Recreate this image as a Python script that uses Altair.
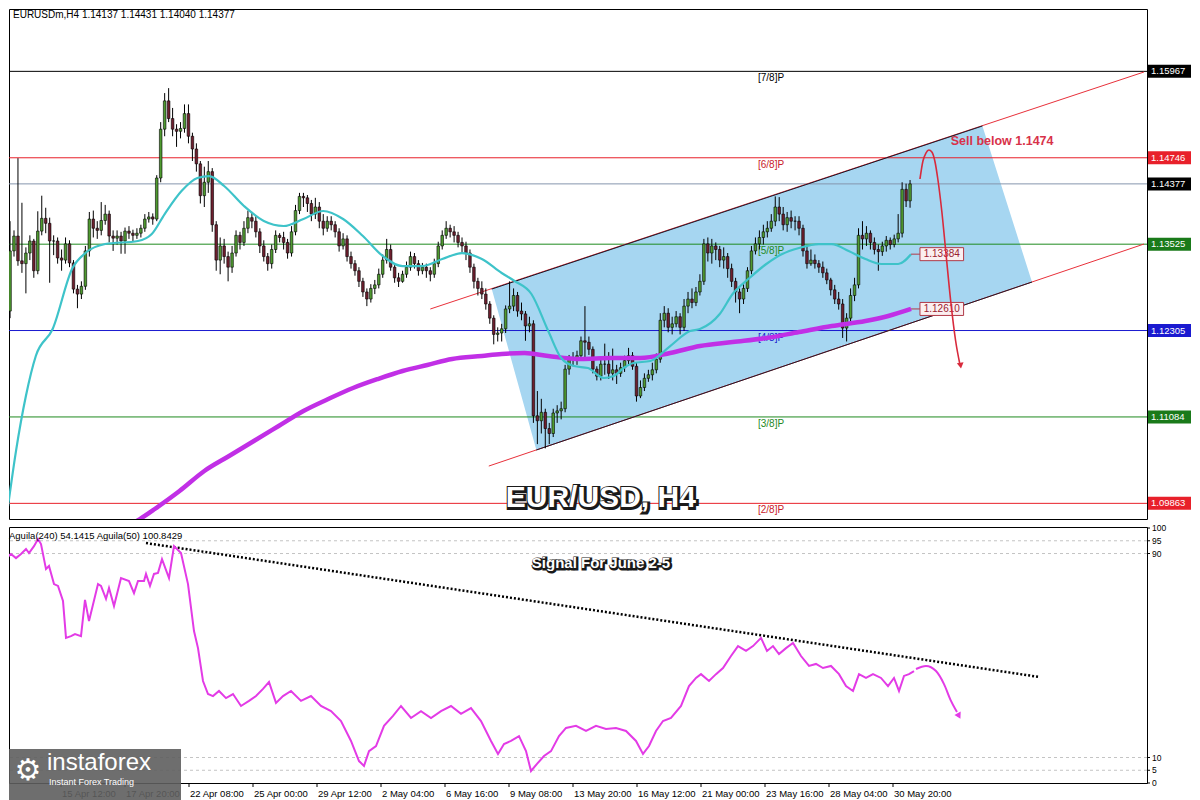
import altair as alt
import pandas as pd

# ---------------- values ----------------
FIRST_BAR = 2          # index of first visible H4 bar
FIRST_OPEN = 1.1258

closes = [
    1.1343, 1.1364, 1.1329, 1.1325, 1.1340, 1.1357, 1.1315, 1.1371, 1.1389, 1.1382,
    1.1357, 1.1357, 1.1333, 1.1330, 1.1353, 1.1326, 1.1289, 1.1282, 1.1293, 1.1343,
    1.1388, 1.1375, 1.1372, 1.1386, 1.1395, 1.1364, 1.1361, 1.1364, 1.1357, 1.1371,
    1.1368, 1.1365, 1.1368, 1.1375, 1.1388, 1.1391, 1.1388, 1.1446, 1.1515, 1.1555,
    1.1530, 1.1515, 1.1512, 1.1516, 1.1537, 1.1505, 1.1487, 1.1466, 1.1421, 1.1440,
    1.1455, 1.1380, 1.1330, 1.1350, 1.1335, 1.1320, 1.1340, 1.1365, 1.1355, 1.1375,
    1.1390, 1.1385, 1.1370, 1.1350, 1.1335, 1.1325, 1.1345, 1.1365, 1.1362, 1.1355,
    1.1340, 1.1370, 1.1400, 1.1420, 1.1418, 1.1410, 1.1395, 1.1405, 1.1385, 1.1375,
    1.1385, 1.1380, 1.1370, 1.1350, 1.1360, 1.1335, 1.1325, 1.1315, 1.1300, 1.1285,
    1.1275, 1.1290, 1.1295, 1.1310, 1.1330, 1.1345, 1.1320, 1.1305, 1.1300, 1.1310,
    1.1320, 1.1335, 1.1325, 1.1315, 1.1320, 1.1315, 1.1310, 1.1325, 1.1350, 1.1365,
    1.1375, 1.1370, 1.1365, 1.1355, 1.1350, 1.1340, 1.1320, 1.1300, 1.1290, 1.1282,
    1.1268, 1.1248, 1.1225, 1.1227, 1.1233, 1.1261, 1.1265, 1.1280, 1.1258, 1.1254,
    1.1237, 1.1240, 1.1110, 1.1103, 1.1115, 1.1092, 1.1085, 1.1114, 1.1117, 1.1120,
    1.1176, 1.1190, 1.1192, 1.1195, 1.1216, 1.1214, 1.1204, 1.1176, 1.1166, 1.1183,
    1.1183, 1.1170, 1.1175, 1.1170, 1.1178, 1.1188, 1.1195, 1.1180, 1.1138, 1.1150,
    1.1163, 1.1168, 1.1175, 1.1190, 1.1245, 1.1255, 1.1235, 1.1240, 1.1250, 1.1235,
    1.1265, 1.1275, 1.1270, 1.1285, 1.1300, 1.1353, 1.1340, 1.1350, 1.1345, 1.1330,
    1.1335, 1.1318, 1.1300, 1.1285, 1.1275, 1.1290, 1.1315, 1.1343, 1.1353, 1.1362,
    1.1370, 1.1375, 1.1385, 1.1405, 1.1395, 1.1380, 1.1390, 1.1385, 1.1385, 1.1375,
    1.1343, 1.1325, 1.1330, 1.1325, 1.1320, 1.1312, 1.1302, 1.1288, 1.1275, 1.1268,
    1.1234, 1.1248, 1.1280, 1.1295, 1.1365, 1.1360, 1.1368, 1.1355, 1.1345, 1.1342,
    1.1350, 1.1358, 1.1352, 1.1360, 1.1368, 1.1430, 1.14137, 1.14377,
]
highs = [
    1.1385, 1.1372, 1.1474, 1.1411, 1.1348, 1.1365, 1.1360, 1.1399, 1.1421, 1.1404,
    1.1390, 1.1365, 1.1362, 1.1345, 1.1362, 1.1358, 1.1330, 1.1295, 1.1300, 1.1350,
    1.1398, 1.1400, 1.1385, 1.1412, 1.1408, 1.1400, 1.1372, 1.1372, 1.1370, 1.1376,
    1.1378, 1.1373, 1.1375, 1.1380, 1.1395, 1.1398, 1.1396, 1.1450, 1.1525, 1.1566,
    1.1573, 1.1545, 1.1522, 1.1525, 1.1550, 1.1550, 1.1510, 1.1495, 1.1470, 1.1462,
    1.1470, 1.1460, 1.1385, 1.1362, 1.1360, 1.1342, 1.1350, 1.1372, 1.1370, 1.1385,
    1.1400, 1.1398, 1.1392, 1.1375, 1.1358, 1.1340, 1.1352, 1.1372, 1.1368, 1.1370,
    1.1360, 1.1378, 1.1408, 1.1425, 1.1425, 1.1422, 1.1415, 1.1418, 1.1412, 1.1395,
    1.1392, 1.1392, 1.1385, 1.1375, 1.1368, 1.1365, 1.1342, 1.1330, 1.1320, 1.1305,
    1.1290, 1.1296, 1.1302, 1.1318, 1.1338, 1.1360, 1.1352, 1.1325, 1.1312, 1.1315,
    1.1328, 1.1342, 1.1340, 1.1330, 1.1326, 1.1325, 1.1320, 1.1332, 1.1356, 1.1372,
    1.1385, 1.1380, 1.1378, 1.1370, 1.1362, 1.1356, 1.1345, 1.1325, 1.1305, 1.1300,
    1.1290, 1.1272, 1.1252, 1.1235, 1.1240, 1.1266, 1.1300, 1.1290, 1.1285, 1.1270,
    1.1258, 1.1250, 1.1245, 1.1145, 1.1134, 1.1120, 1.1100, 1.1120, 1.1125, 1.1130,
    1.1182, 1.1196, 1.1200, 1.1202, 1.1222, 1.1265, 1.1222, 1.1208, 1.1180, 1.1190,
    1.1212, 1.1200, 1.1205, 1.1182, 1.1185, 1.1195, 1.1206, 1.1200, 1.1185, 1.1160,
    1.1170, 1.1175, 1.1185, 1.1198, 1.1255, 1.1265, 1.1262, 1.1250, 1.1258, 1.1255,
    1.1275, 1.1285, 1.1290, 1.1292, 1.1310, 1.1360, 1.1362, 1.1360, 1.1355, 1.1350,
    1.1348, 1.1340, 1.1325, 1.1305, 1.1290, 1.1296, 1.1320, 1.1350, 1.1362, 1.1372,
    1.1380, 1.1385, 1.1395, 1.1420, 1.1419, 1.1405, 1.1398, 1.1400, 1.1392, 1.1392,
    1.1380, 1.1350, 1.1345, 1.1338, 1.1330, 1.1328, 1.1318, 1.1305, 1.1295, 1.1285,
    1.1275, 1.1255, 1.1290, 1.1305, 1.1375, 1.1385, 1.1378, 1.1372, 1.1362, 1.1352,
    1.1356, 1.1364, 1.1362, 1.1366, 1.1395, 1.1440, 1.1438, 1.14431,
]
lows = [
    1.1248, 1.1335, 1.1322, 1.1312, 1.1283, 1.1330, 1.1305, 1.1310, 1.1365, 1.1368,
    1.1298, 1.1337, 1.1325, 1.1315, 1.1325, 1.1320, 1.1283, 1.1262, 1.1275, 1.1288,
    1.1335, 1.1362, 1.1360, 1.1365, 1.1380, 1.1355, 1.1343, 1.1352, 1.1339, 1.1339,
    1.1360, 1.1356, 1.1360, 1.1362, 1.1370, 1.1383, 1.1380, 1.1385, 1.1440, 1.1505,
    1.1525, 1.1505, 1.1490, 1.1502, 1.1510, 1.1495, 1.1470, 1.1455, 1.1410, 1.1405,
    1.1425, 1.1370, 1.1315, 1.1310, 1.1325, 1.1300, 1.1312, 1.1335, 1.1345, 1.1350,
    1.1368, 1.1375, 1.1362, 1.1340, 1.1328, 1.1315, 1.1318, 1.1340, 1.1355, 1.1345,
    1.1332, 1.1335, 1.1365, 1.1395, 1.1405, 1.1398, 1.1385, 1.1388, 1.1375, 1.1365,
    1.1370, 1.1372, 1.1362, 1.1342, 1.1345, 1.1328, 1.1318, 1.1308, 1.1292, 1.1278,
    1.1265, 1.1270, 1.1282, 1.1290, 1.1305, 1.1325, 1.1315, 1.1298, 1.1292, 1.1298,
    1.1305, 1.1315, 1.1318, 1.1308, 1.1310, 1.1305, 1.1300, 1.1305, 1.1320, 1.1345,
    1.1360, 1.1362, 1.1355, 1.1348, 1.1340, 1.1330, 1.1312, 1.1290, 1.1280, 1.1275,
    1.1260, 1.1240, 1.1211, 1.1215, 1.1215, 1.1227, 1.1255, 1.1258, 1.1250, 1.1245,
    1.1216, 1.1228, 1.1100, 1.1070, 1.1085, 1.1064, 1.1070, 1.1080, 1.1100, 1.1105,
    1.1115, 1.1168, 1.1180, 1.1182, 1.1190, 1.1190, 1.1196, 1.1170, 1.1160, 1.1160,
    1.1168, 1.1162, 1.1160, 1.1155, 1.1165, 1.1172, 1.1182, 1.1175, 1.1130, 1.1135,
    1.1145, 1.1158, 1.1160, 1.1170, 1.1185, 1.1235, 1.1228, 1.1225, 1.1235, 1.1225,
    1.1230, 1.1255, 1.1262, 1.1265, 1.1280, 1.1295, 1.1328, 1.1325, 1.1330, 1.1320,
    1.1318, 1.1305, 1.1292, 1.1270, 1.1255, 1.1268, 1.1285, 1.1310, 1.1338, 1.1345,
    1.1352, 1.1362, 1.1370, 1.1378, 1.1385, 1.1372, 1.1370, 1.1375, 1.1372, 1.1365,
    1.1335, 1.1318, 1.1322, 1.1318, 1.1312, 1.1305, 1.1296, 1.1280, 1.1268, 1.1260,
    1.1220, 1.1215, 1.1240, 1.1272, 1.1290, 1.1345, 1.1350, 1.1345, 1.1338, 1.1315,
    1.1336, 1.1342, 1.1345, 1.1348, 1.1355, 1.1362, 1.1405, 1.14040,
]

# fast moving average (cyan), read at points
fast_i = [1.5, 3.5, 6, 8.5, 12.75, 17.75, 21, 26, 34.25, 37.75, 41, 45.25, 49.25, 52.25, 56,
          61, 66, 71, 76, 81, 86, 91, 96, 101, 106, 111, 116, 121, 126, 129.25, 133.5, 137.75,
          141, 144.25, 147.75, 151.75, 154.25, 156.75, 159.25, 163.5, 168.5, 173.5, 176, 181,
          184.25, 188.5, 192.75, 196.75, 201, 206, 209.25, 213.5, 217.75, 221.75, 226, 229.25]
fast_p = [1.09825, 1.10602, 1.11380, 1.11945, 1.12326, 1.13188, 1.13400, 1.13527, 1.13570,
          1.13669, 1.13951, 1.14276, 1.14460, 1.14488, 1.14347, 1.14064, 1.13852, 1.13782,
          1.13881, 1.13994, 1.13881, 1.13640, 1.13358, 1.13216, 1.13216, 1.13315, 1.13400,
          1.13315, 1.13118, 1.13005, 1.12821, 1.12298, 1.11917, 1.11803, 1.11775, 1.11634,
          1.11662, 1.11775, 1.11846, 1.11874, 1.12086, 1.12298, 1.12326, 1.12538, 1.12821,
          1.13047, 1.13245, 1.13386, 1.13471, 1.13527, 1.13527, 1.13428, 1.13315, 1.13245,
          1.13245, 1.13384]
# slow moving average (magenta)
slow_i = [32, 34.75, 38.5, 44.75, 51, 57.25, 63.5, 69.75, 76, 82.25, 88.5, 94.75, 101, 107.25,
          113.5, 121, 126, 131.75, 137.75, 146, 153.5, 161, 168.5, 176, 184.25, 192.75, 201,
          209.25, 217.75, 223.5, 229.25]
slow_p = [1.0955, 1.09641, 1.09783, 1.10037, 1.10320, 1.10532, 1.10744, 1.10956, 1.11168,
          1.11337, 1.11493, 1.11620, 1.11733, 1.11818, 1.11902, 1.11945, 1.11973, 1.11987,
          1.11945, 1.11902, 1.11916, 1.11916, 1.11987, 1.12086, 1.12142, 1.12199, 1.12284,
          1.12369, 1.12439, 1.12510, 1.12610]

# Aguila(240) oscillator (lower panel)
ind_i = [1.5, 2.25, 3.5, 4.75, 6, 7.25, 8, 9.25, 10.25, 11,
         12.25, 13, 14.25, 15.25, 16.5, 17.25, 18.5, 19.5, 21, 22,
         23, 25.25, 26, 27.25, 28, 29.25, 31, 33, 34.25, 35.25,
         36.75, 37.25, 38.25, 39.25, 40.25, 41.25, 43, 44.25, 46, 47.75,
         49.25, 50.25, 51.5, 52.75, 54, 55.5, 57.25, 59, 61, 63,
         64.75, 66.5, 68, 69.75, 71.5, 73.5, 76, 78.5, 81, 83.5,
         86, 88.5, 90.5, 91.75, 93, 94.75, 96.75, 99, 101, 103.5,
         106, 108.5, 111, 113.5, 116, 118.5, 121, 123.5, 125.25, 126.75,
         128.5, 130.5, 132.25, 133.5, 135, 136.75, 138.5, 140.5, 142.25, 144.75,
         147.25, 149.75, 152.25, 154.75, 157.25, 159.75, 161.5, 163, 164.75, 166.5,
         168.5, 171, 173, 174.75, 176, 178, 179.75, 181.5, 183.5, 185.25,
         187.25, 189, 191, 192.5, 194, 195.5, 197.25, 199, 201, 203,
         204.75, 206.5, 208.5, 210.5, 212.25, 214, 215.5, 217.25, 219, 221,
         222.75, 224.25, 225.5, 226.75, 228, 229.25]
ind_v = [82.0, 88.2, 89.8, 88.2, 89.8, 91.8, 90.2, 92.9, 95.7, 93.7,
         83.9, 85.1, 78.0, 77.3, 71.4, 56.9, 57.6, 58.4, 57.6, 71.8,
         63.5, 78.0, 77.3, 72.2, 76.5, 69.4, 80.4, 79.2, 74.5, 79.2,
         79.2, 82.0, 77.3, 82.0, 82.4, 87.8, 80.4, 92.9, 90.2, 78.0,
         59.6, 52.9, 40.0, 34.9, 34.1, 36.1, 33.3, 34.9, 30.2, 32.2,
         34.1, 36.9, 39.6, 31.4, 34.1, 36.1, 32.2, 34.1, 30.2, 28.2,
         24.3, 16.5, 8.6, 6.7, 12.5, 14.5, 22.4, 26.3, 30.2, 25.5,
         28.2, 25.5, 28.2, 30.2, 27.1, 29.4, 24.3, 16.5, 11.4, 15.3,
         16.5, 18.4, 12.5, 4.7, 7.5, 10.6, 12.5, 18.4, 21.6, 22.4,
         20.4, 22.4, 21.2, 21.6, 20.4, 16.5, 11.4, 14.5, 20.4, 24.3,
         25.5, 30.2, 38.0, 41.2, 42.7, 40.0, 42.7, 45.1, 49.8, 53.7,
         51.8, 53.7, 56.9, 51.8, 53.7, 50.6, 52.9, 54.9, 49.8, 45.9,
         46.7, 45.1, 45.9, 42.7, 38.0, 36.1, 42.7, 41.2, 42.7, 41.2,
         38.0, 41.2, 36.1, 42.0, 42.7, 43.9]

# Murrey levels
level_names = ["[7/8]P", "[6/8]P", "[5/8]P", "[4/8]P", "[3/8]P", "[2/8]P"]
level_values = [1.15967, 1.14746, 1.13525, 1.12305, 1.11084, 1.09863]
level_colors = ["#000000", "#e8202a", "#1f8a1f", "#1a1ad0", "#1f8a1f", "#e8202a"]
level_text_colors = ["#000000", "#c8202a", "#1f8a1f", "#1a1ad0", "#1f8a1f", "#c8202a"]
current_price = 1.14377

tag_values = [1.15967, 1.14746, 1.14377, 1.13525, 1.12305, 1.11084, 1.09863]
tag_colors = ["#000000", "#e8202a", "#000000", "#1a7a1a", "#1a1ad0", "#1a7a1a", "#e8202a"]

price_ticks = [1.09670, 1.10140, 1.10600, 1.11530, 1.12000, 1.12470, 1.12930, 1.13400,
               1.13860, 1.15260, 1.15720, 1.16190, 1.16650]
ind_ticks = [0, 5, 10, 90, 95, 100]
ind_dashed = [95, 90, 10, 5]

date_idx = [16, 32, 48, 64, 80, 96, 112, 128, 144, 160, 176, 192, 208, 224]
date_labels = ["15 Apr 12:00", "17 Apr 20:00", "22 Apr 08:00", "25 Apr 00:00", "29 Apr 12:00",
               "2 May 04:00", "6 May 16:00", "9 May 08:00", "13 May 20:00", "16 May 12:00",
               "21 May 00:00", "23 May 16:00", "28 May 04:00", "30 May 20:00"]

# channel (parallelogram) and trend lines, in (bar, price)
chan_i = [123.5, 134.75, 247.25, 259.75]
chan_top = [1.12891, 1.13100, 1.15195, 1.12990]
chan_bot = [1.12891, 1.10617, 1.12752, 1.12990]
red_i1 = [108, 122.75]
red_p1 = [1.12609, 1.10390]
red_i2 = [288, 288]
red_p2 = [1.15958, 1.13527]

arrow_i = [231.5, 232.25, 233, 233.75, 234.5, 235.25, 236, 237, 238, 239.25, 240.5, 241.5]
arrow_p = [1.14446, 1.14700, 1.14813, 1.14855, 1.14827, 1.14700, 1.14446, 1.13994,
           1.13428, 1.12722, 1.12157, 1.11846]
low_arrow_i = [229.75, 232.25, 234.75, 236.75, 238.5, 240.0]
low_arrow_v = [44.7, 45.9, 43.9, 38.8, 32.2, 27.8]
trend_i = [37.25, 260.5]
trend_v = [94.1, 41.6]

# ---------------- layout ----------------
W = 1138
H_MAIN = 510
H_LOW = 256
X_DOMAIN = [3, 287.5]
P_DOMAIN = [1.09642, 1.16848]
V_DOMAIN = [0, 100.4]
PX = (P_DOMAIN[1] - P_DOMAIN[0]) / H_MAIN
FONT = "Liberation Sans"
BULL = "#4f9a30"
BEAR = "#6e1f2e"
RED = "#d82a3c"

xs = alt.Scale(domain=X_DOMAIN, nice=False, zero=False)
ps = alt.Scale(domain=P_DOMAIN, nice=False, zero=False)
vs = alt.Scale(domain=V_DOMAIN, nice=False, zero=False)


def X(f="i"):
    return alt.X(f"{f}:Q", scale=xs, axis=None)


def P(f):
    return alt.Y(f"{f}:Q", scale=ps, axis=None)


def V(f):
    return alt.Y(f"{f}:Q", scale=vs, axis=None)


# ---------------- data frames ----------------
n = len(closes)
bars = list(range(FIRST_BAR, FIRST_BAR + n))
opens = [FIRST_OPEN] + closes[:-1]
candles = pd.DataFrame({"i": bars, "o": opens, "c": closes, "h": highs, "l": lows})
candles["h"] = candles[["h", "o", "c"]].max(axis=1)
candles["l"] = candles[["l", "o", "c"]].min(axis=1)
candles["up"] = candles["c"] >= candles["o"]

chan = pd.DataFrame({"i": chan_i, "top": chan_top, "bot": chan_bot})
edges = pd.DataFrame({"i": [chan_i[0], chan_i[1]], "i2": [chan_i[2], chan_i[3]],
                      "p": [chan_top[0], chan_bot[1]], "p2": [chan_top[2], chan_bot[3]]})
reds = pd.DataFrame({"i": red_i1, "p": red_p1, "i2": red_i2, "p2": red_p2})
levels = pd.DataFrame({"p": level_values, "col": level_colors, "name": level_names,
                       "tcol": level_text_colors})
tags = pd.DataFrame({"p": tag_values, "col": tag_colors})
tags["top"] = tags["p"] + 6.5 * PX
tags["bot"] = tags["p"] - 6.5 * PX
tags["txt"] = tags["p"].map(lambda v: f"{v:.5f}")

fast = pd.DataFrame({"i": fast_i, "p": fast_p})
slow = pd.DataFrame({"i": slow_i, "p": slow_p})
ma_tags = pd.DataFrame({"i0": [fast_i[-1], slow_i[-1]], "p": [fast_p[-1], slow_p[-1]]})
ma_tags["i1"] = 231.5
ma_tags["i2"] = 242.5
ma_tags["mid"] = 237.0
ma_tags["top"] = ma_tags["p"] + 6.5 * PX
ma_tags["bot"] = ma_tags["p"] - 6.5 * PX
ma_tags["txt"] = ma_tags["p"].map(lambda v: f"{v:.5f}")

arrow = pd.DataFrame({"i": arrow_i, "p": arrow_p})
arrow_head = pd.DataFrame({"i": [241.75], "p": [1.1181]})

# ---------------- main panel ----------------
price_axis = alt.Axis(orient="right", values=price_ticks, format=".5f", title=None,
                      labelFontSize=9.5, labelFont=FONT, tickSize=4, labelPadding=2,
                      labelOverlap=False, domain=False, grid=False, labelColor="black",
                      tickColor="black")

m_channel = alt.Chart(chan).mark_area(color="#a6d6f1", opacity=1, clip=True).encode(
    x=X(), y=P("top"), y2="bot")
m_levels = alt.Chart(levels).mark_rule(strokeWidth=1).encode(
    y=P("p"), color=alt.Color("col:N", scale=None))
m_cur = alt.Chart(pd.DataFrame({"p": [current_price]})).mark_rule(
    color="#8596ad", strokeWidth=1).encode(y=P("p"))
m_reds = alt.Chart(reds).mark_rule(color="#e8303a", strokeWidth=1, clip=True).encode(
    x=X("i"), x2="i2", y=P("p"), y2="p2")
m_edges = alt.Chart(edges).mark_rule(color="#1a1a2a", strokeWidth=1, clip=True).encode(
    x=X("i"), x2="i2", y=P("p"), y2="p2")
m_lvl_txt = alt.Chart(levels).mark_text(align="left", baseline="middle", dy=7,
                                         fontSize=10, font=FONT).encode(
    x=alt.value(749), y=P("p"), text="name:N", color=alt.Color("tcol:N", scale=None))

m_wicks = alt.Chart(candles).mark_rule(color="black", strokeWidth=1, clip=True).encode(
    x=X(), y=alt.Y("l:Q", scale=ps, axis=price_axis), y2="h")
m_bodies = alt.Chart(candles).mark_bar(size=2.6, stroke="black", strokeWidth=0.6,
                                       clip=True).encode(
    x=X(), y=P("o"), y2="c",
    color=alt.condition("datum.up", alt.value(BULL), alt.value(BEAR)))

m_slow = alt.Chart(slow).mark_line(color="#c12fe6", strokeWidth=4.5, interpolate="monotone",
                                    clip=True).encode(x=X(), y=P("p"))
m_fast = alt.Chart(fast).mark_line(color="#3ec3c9", strokeWidth=2.2, interpolate="monotone",
                                    clip=True).encode(x=X(), y=P("p"))

m_tag_link = alt.Chart(ma_tags).mark_rule(color="#b03a48", strokeWidth=1).encode(
    x=X("i0"), x2="i1", y=P("p"))
m_tag_box = alt.Chart(ma_tags).mark_rect(fill="#fbeff0", stroke="#b03a48", strokeWidth=1).encode(
    x=X("i1"), x2="i2", y=P("top"), y2="bot")
m_tag_txt = alt.Chart(ma_tags).mark_text(color="#9a2030", fontSize=10, font=FONT,
                                          baseline="middle").encode(
    x=X("mid"), y=P("p"), text="txt:N")

m_arrow = alt.Chart(arrow).mark_line(color=RED, strokeWidth=1.6, interpolate="monotone").encode(
    x=X(), y=P("p"))
m_head = alt.Chart(arrow_head).mark_point(shape="triangle-down", filled=True, size=45,
                                          color=RED, opacity=1, angle=352).encode(
    x=X(), y=P("p"))

m_sell = alt.Chart(pd.DataFrame({"i": [239.25], "p": [1.1498], "t": ["Sell below 1.1474"]})
                   ).mark_text(align="left", baseline="middle", fontSize=12.5,
                               fontWeight="bold", color="#d8324a", font=FONT).encode(
    x=X(), y=P("p"), text="t:N")

title_df = pd.DataFrame({"i": [151], "p": [1.0994], "t": ["EUR/USD, H4"]})
m_title_bg = alt.Chart(title_df).mark_text(fontSize=30, fontWeight="bold", font=FONT,
                                           baseline="middle", color="#1a1a1a",
                                           stroke="#1a1a1a", strokeWidth=4, dx=1, dy=1).encode(
    x=X(), y=P("p"), text="t:N")
m_title = alt.Chart(title_df).mark_text(fontSize=30, fontWeight="bold", font=FONT,
                                        baseline="middle", color="white").encode(
    x=X(), y=P("p"), text="t:N")

m_header = alt.Chart(pd.DataFrame({"t": ["EURUSDm,H4  1.14137 1.14431 1.14040 1.14377"]})
                     ).mark_text(align="left", baseline="middle", fontSize=10, font=FONT,
                                 color="black").encode(
    x=alt.value(4), y=alt.value(6), text="t:N")

m_tag_rect = alt.Chart(tags).mark_rect().encode(
    x=alt.value(W + 1), x2=alt.value(W + 44), y=P("top"), y2="bot",
    color=alt.Color("col:N", scale=None))
m_tag_text = alt.Chart(tags).mark_text(align="left", baseline="middle", color="white",
                                       fontSize=9.5, font=FONT).encode(
    x=alt.value(W + 4), y=P("p"), text="txt:N")

main = alt.layer(
    m_channel, m_levels, m_cur, m_reds, m_edges, m_lvl_txt, m_wicks, m_bodies,
    m_slow, m_fast, m_tag_link, m_tag_box, m_tag_txt, m_arrow, m_head, m_sell,
    m_title_bg, m_title, m_header, m_tag_rect, m_tag_text,
).properties(width=W, height=H_MAIN)

# ---------------- lower panel ----------------
ind = pd.DataFrame({"i": ind_i, "v": ind_v})
dates = pd.DataFrame({"i": date_idx, "t": date_labels})
ivals = pd.DataFrame({"v": ind_ticks, "t": [str(t) for t in ind_ticks]})

# axis ticks and labels placed through the panel's own scales
l_xticks = alt.Chart(dates).mark_rule(color="black", strokeWidth=1).encode(
    x=X(), y=alt.value(H_LOW), y2=alt.value(H_LOW + 4))
l_xlabels = alt.Chart(dates).mark_text(align="left", baseline="top", fontSize=9.5, font=FONT,
                                       color="black", dx=1).encode(
    x=X(), y=alt.value(H_LOW + 6), text="t:N")
l_yticks = alt.Chart(ivals).mark_rule(color="black", strokeWidth=1).encode(
    x=alt.value(W), x2=alt.value(W + 3), y=V("v"))
l_ylabels = alt.Chart(ivals).mark_text(align="left", baseline="middle", fontSize=8.5,
                                       font=FONT, color="black").encode(
    x=alt.value(W + 5), y=V("v"), text="t:N")

l_dash = alt.Chart(pd.DataFrame({"v": ind_dashed})).mark_rule(
    color="#c4c4c4", strokeWidth=1, strokeDash=[3, 3]).encode(y=V("v"))
l_trend = alt.Chart(pd.DataFrame({"i": [trend_i[0]], "i2": [trend_i[1]],
                                  "v": [trend_v[0]], "v2": [trend_v[1]]})
                    ).mark_rule(color="black", strokeWidth=2.5, strokeDash=[2, 2]).encode(
    x=X("i"), x2="i2", y=V("v"), y2="v2")
l_line = alt.Chart(ind).mark_line(color="#e33be6", strokeWidth=2, clip=True).encode(
    x=X(), y=V("v"))
l_arrow = alt.Chart(pd.DataFrame({"i": low_arrow_i, "v": low_arrow_v})).mark_line(
    color="#e33be6", strokeWidth=2, interpolate="monotone").encode(x=X(), y=V("v"))
l_head = alt.Chart(pd.DataFrame({"i": [240.5], "v": [26.3]})).mark_point(
    shape="triangle-down", filled=True, size=50, color="#e33be6", opacity=1,
    angle=332).encode(x=X(), y=V("v"))

sig_df = pd.DataFrame({"i": [151], "v": [86.3], "t": ["Signal For June 2-5"]})
l_sig_bg = alt.Chart(sig_df).mark_text(fontSize=15, fontWeight="bold", font=FONT,
                                       baseline="middle", color="#1a1a1a", stroke="#1a1a1a",
                                       strokeWidth=3, dx=1, dy=1).encode(
    x=X(), y=V("v"), text="t:N")
l_sig = alt.Chart(sig_df).mark_text(fontSize=15, fontWeight="bold", font=FONT,
                                    baseline="middle", color="white").encode(
    x=X(), y=V("v"), text="t:N")
l_header = alt.Chart(pd.DataFrame({"t": ["Aguila(240) 54.1415   Aguila(50) 100.8429"]})
                     ).mark_text(align="left", baseline="middle", fontSize=9.5, font=FONT,
                                 color="black").encode(
    x=alt.value(0), y=alt.value(9), text="t:N")

# logo badge (drawn over the covered date labels, as in the screenshot)
logo_rect = alt.Chart(pd.DataFrame({"a": [0]})).mark_rect(color="#5e5e5e", opacity=0.9).encode(
    x=alt.value(0), x2=alt.value(172), y=alt.value(222), y2=alt.value(277))
logo_gear = alt.Chart(pd.DataFrame({"t": ["\u2699"]})).mark_text(
    fontSize=30, font="DejaVu Sans", color="white", baseline="middle").encode(
    x=alt.value(19), y=alt.value(244), text="t:N")
logo_name = alt.Chart(pd.DataFrame({"t": ["instaforex"]})).mark_text(
    fontSize=24, font=FONT, color="white", align="left", baseline="alphabetic").encode(
    x=alt.value(38), y=alt.value(243), text="t:N")
logo_sub = alt.Chart(pd.DataFrame({"t": ["Instant Forex Trading"]})).mark_text(
    fontSize=9, font=FONT, color="white", align="left", baseline="middle").encode(
    x=alt.value(40), y=alt.value(255), text="t:N")

lower = alt.layer(
    l_dash, l_trend, l_line, l_arrow, l_head, l_sig_bg, l_sig, l_header,
    l_xticks, l_xlabels, l_yticks, l_ylabels,
    logo_rect, logo_gear, logo_name, logo_sub,
).properties(width=W, height=H_LOW)

chart = alt.vconcat(main, lower, spacing=3).resolve_scale(
    x="independent", y="independent"
).configure_view(stroke="black", strokeWidth=1).properties(
    padding={"left": 0, "right": 0, "top": 0, "bottom": 0}, background="white"
)

chart.save("out.html", embed_options={"renderer": "svg", "actions": False})
